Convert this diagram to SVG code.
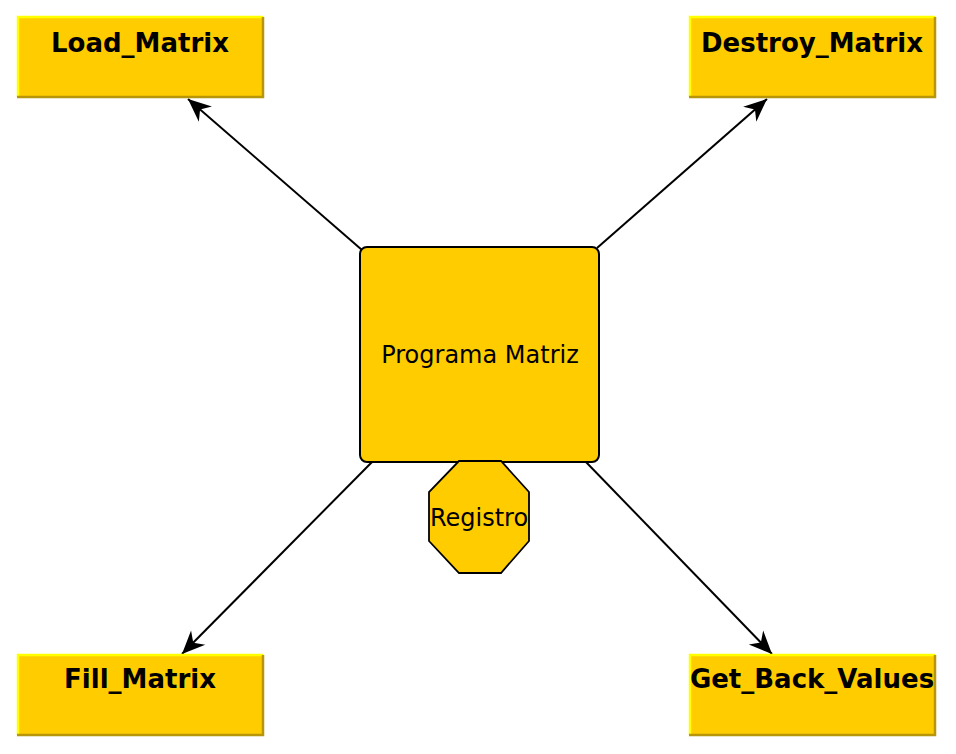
<svg xmlns="http://www.w3.org/2000/svg" width="956" height="754" viewBox="0 0 956 754">
<style>
.bf{fill:#ffcc00}
.hl{stroke:#ffff00;stroke-width:2.5;fill:none}
.sh{stroke:#b8960a;stroke-width:2.5;fill:none}
.lbl{font-family:"DejaVu Sans",sans-serif;font-weight:bold;font-size:26px;fill:#000;text-anchor:middle}
.reg{font-family:"DejaVu Sans",sans-serif;font-size:24px;fill:#000;text-anchor:middle}
.edge{stroke:#000;stroke-width:2;fill:none;marker-end:url(#ah)}
</style>
<defs>
<marker id="ah" markerUnits="userSpaceOnUse" markerWidth="26" markerHeight="24" viewBox="-24 -12 26 24" refX="0" refY="0" orient="auto">
<path d="M0,0 L-23,-10 L-16,0 L-23,10 Z" fill="#000"/>
</marker>
</defs>
<g id="connectors">
<line class="edge" x1="362" y1="250" x2="188" y2="99"/>
<line class="edge" x1="597" y1="248" x2="767" y2="99"/>
<line class="edge" x1="373" y1="461" x2="182" y2="654"/>
<line class="edge" x1="585" y1="461" x2="772" y2="654"/>
</g>
<g id="load_matrix">
<rect class="bf" x="17" y="16" width="246" height="81"/>
<path class="hl" d="M18,97 V17 H263"/>
<path class="sh" d="M17,97 H263 V17"/>
<text class="lbl" x="140" y="52">Load_Matrix</text>
</g>
<g id="destroy_matrix">
<rect class="bf" x="689" y="16" width="246" height="81"/>
<path class="hl" d="M690,97 V17 H935"/>
<path class="sh" d="M689,97 H935 V17"/>
<text class="lbl" x="812" y="52">Destroy_Matrix</text>
</g>
<g id="fill_matrix">
<rect class="bf" x="17" y="654" width="246" height="81"/>
<path class="hl" d="M18,735 V655 H263"/>
<path class="sh" d="M17,735 H263 V655"/>
<text class="lbl" x="140" y="688">Fill_Matrix</text>
</g>
<g id="get_back_values">
<rect class="bf" x="689" y="654" width="246" height="81"/>
<path class="hl" d="M690,735 V655 H935"/>
<path class="sh" d="M689,735 H935 V655"/>
<text class="lbl" x="812" y="688">Get_Back_Values</text>
</g>
<g id="programa_matriz">
<rect x="360" y="247" width="239" height="215" rx="7" fill="#ffcc00" stroke="#000" stroke-width="2"/>
<text class="reg" x="480" y="363">Programa Matriz</text>
</g>
<g id="registro">
<polygon points="459,461 501,461 529,492 529,541 501,573 459,573 429,541 429,492" fill="#ffcc00" stroke="#000" stroke-width="1.8"/>
<text class="reg" x="479" y="526">Registro</text>
</g>
</svg>
